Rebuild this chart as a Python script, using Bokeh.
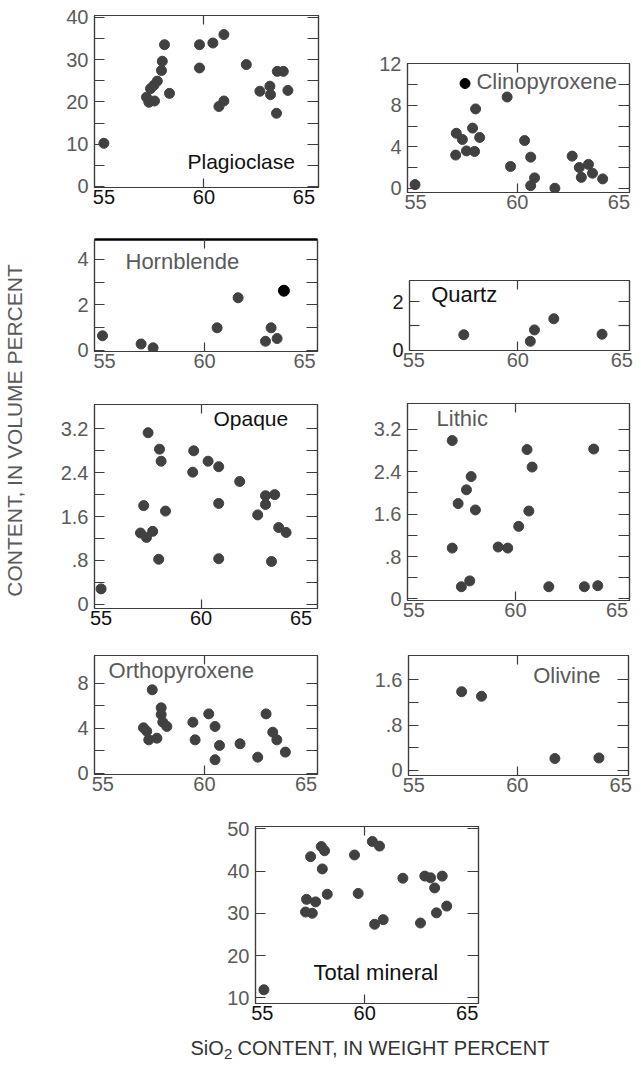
import math
from bokeh.plotting import figure
from bokeh.layouts import row, column
from bokeh.models import Range1d, FixedTicker, LinearAxis
from bokeh.embed import file_html
from bokeh.resources import INLINE
from bokeh.core.properties import value

# ---------------- data (SiO2 wt% vs content vol%) ----------------
plag_x = [55.0, 57.13, 57.25, 57.53, 57.33, 57.5, 57.67, 57.88, 57.92, 58.03, 58.28, 59.78, 59.78,
          60.45, 61.0, 60.75, 61.0, 62.12, 62.8, 63.3, 63.33, 63.63, 63.67, 63.97, 64.2]
plag_y = [10.2, 21.1, 19.9, 20.2, 23.1, 23.9, 24.9, 27.4, 29.6, 33.5, 22.0, 33.5, 28.0,
          33.9, 35.9, 18.9, 20.2, 28.8, 22.5, 23.7, 21.7, 17.3, 27.2, 27.2, 22.7]

clino_x = [54.97, 57.0, 57.3, 57.8, 58.15, 56.97, 57.5, 57.9, 57.95, 59.5, 59.67, 60.36, 60.66,
           60.66, 60.85, 61.85, 62.7, 63.05, 63.15, 63.5, 63.7, 64.2]
clino_y = [0.35, 5.3, 4.7, 5.8, 4.9, 3.2, 3.6, 3.55, 7.65, 8.8, 2.1, 4.6, 3.0,
           0.25, 1.0, 0.0, 3.1, 2.0, 1.05, 2.3, 1.45, 0.9]
clino_hl_x = [57.43]
clino_hl_y = [10.1]

horn_x = [54.9, 56.83, 57.43, 60.63, 61.68, 63.05, 63.33, 63.63]
horn_y = [0.64, 0.28, 0.11, 0.99, 2.31, 0.4, 0.99, 0.52]
horn_hl_x = [63.97]
horn_hl_y = [2.62]

quartz_x = [57.4, 60.6, 60.8, 61.73, 64.05]
quartz_y = [0.63, 0.36, 0.83, 1.29, 0.65]

opaque_x = [55.0, 57.35, 56.97, 57.27, 57.58, 57.13, 57.92, 58.0, 58.22, 57.88, 59.63, 59.58,
            60.35, 60.88, 60.88, 60.88, 61.93, 62.83, 63.22, 63.22, 63.68, 63.88, 64.25, 63.52]
opaque_y = [0.28, 3.13, 1.30, 1.22, 1.33, 1.80, 2.83, 2.61, 1.70, 0.82, 2.80, 2.41,
            2.61, 2.51, 1.84, 0.83, 2.24, 1.63, 1.82, 1.98, 2.0, 1.40, 1.31, 0.78]

lithic_x = [56.89, 57.18, 56.89, 57.59, 57.82, 58.03, 57.34, 57.75, 59.15, 59.62, 60.16, 60.57,
            60.82, 60.66, 61.64, 63.39, 64.05, 63.85]
lithic_y = [2.99, 1.80, 0.96, 2.06, 2.31, 1.68, 0.23, 0.34, 0.98, 0.96, 1.37, 2.82,
            2.49, 1.66, 0.23, 0.23, 0.25, 2.83]

ortho_x = [57.43, 57.0, 57.16, 57.26, 57.66, 57.87, 57.87, 57.95, 58.15, 59.43, 59.54, 60.21,
           60.52, 60.74, 60.52, 61.75, 62.62, 63.03, 63.36, 63.56, 63.98]
ortho_y = [7.41, 4.03, 3.73, 2.96, 3.11, 5.81, 5.21, 4.53, 4.15, 4.53, 2.96, 5.27,
           4.15, 2.46, 1.19, 2.61, 1.42, 5.27, 3.64, 2.96, 1.87]

olivine_x = [57.31, 58.27, 61.82, 63.95]
olivine_y = [1.39, 1.31, 0.21, 0.22]

total_x = [55.08, 57.36, 57.16, 57.6, 57.11, 57.44, 57.88, 58.04, 57.93, 58.17, 59.5, 59.68,
           60.37, 60.72, 60.48, 60.9, 61.86, 62.72, 62.93, 63.21, 63.41, 63.5, 63.78, 64.0]
total_y = [11.9, 43.4, 33.3, 32.7, 30.3, 30.0, 45.8, 44.8, 40.5, 34.5, 43.8, 34.7,
           47.0, 45.9, 27.4, 28.5, 38.3, 27.7, 38.8, 38.4, 36.0, 30.1, 38.8, 31.7]

x_ticks = [55, 60, 65]
x_inner_ticks = [60]

FONT = "Liberation Sans"
AX = "#3c3c3c"
DOT = "#414141"
GRAY = "#5a5a5a"
DARK = "#111111"


def base_fig(**kw):
    p = figure(output_backend="svg", toolbar_location=None,
               x_axis_type=None, y_axis_type=None, **kw)
    p.frame_align = False
    return p


def panel(w, h, bl, br, bt, bb, xr, yr, ymaj, ymin, yover, xcol, ycol):
    p = base_fig(width=w, height=h, x_range=Range1d(*xr), y_range=Range1d(*yr),
                 min_border_left=bl, min_border_right=br,
                 min_border_top=bt, min_border_bottom=bb)
    p.outline_line_color = AX
    p.outline_line_width = 1.2

    def style(ax):
        ax.axis_line_color = AX
        ax.axis_line_width = 1.2
        ax.major_tick_line_color = AX
        ax.minor_tick_line_color = AX
        ax.major_tick_line_width = 1.2
        ax.minor_tick_line_width = 1.2
        ax.major_label_text_font = FONT
        ax.major_label_text_font_size = "20px"
        ax.major_tick_out = 0
        ax.minor_tick_out = 0

    xb = LinearAxis(ticker=FixedTicker(ticks=x_ticks, minor_ticks=x_inner_ticks))
    style(xb)
    xb.major_tick_in = 0
    xb.minor_tick_in = 9
    xb.major_label_standoff = 2
    xb.major_label_text_color = xcol
    p.add_layout(xb, "below")

    xt = LinearAxis(ticker=FixedTicker(ticks=x_inner_ticks, minor_ticks=[]))
    style(xt)
    xt.major_tick_in = 9
    xt.major_label_text_font_size = "0px"
    xt.major_label_overrides = {60: ""}
    p.add_layout(xt, "above")

    yl = LinearAxis(ticker=FixedTicker(ticks=ymaj, minor_ticks=ymin))
    style(yl)
    yl.major_tick_in = 10
    yl.minor_tick_in = 10
    yl.major_label_standoff = 6
    yl.major_label_text_color = ycol
    if yover:
        yl.major_label_overrides = yover
    p.add_layout(yl, "left")

    yrr = LinearAxis(ticker=FixedTicker(ticks=ymaj, minor_ticks=ymin))
    style(yrr)
    yrr.major_tick_in = 11
    yrr.minor_tick_in = 11
    yrr.major_label_text_font_size = "0px"
    yrr.major_label_overrides = {t: "" for t in ymaj}
    p.add_layout(yrr, "right")
    return p, xt


def dots(p, xs, ys, color=DOT, size=10):
    p.scatter(xs, ys, size=size, fill_color=color, line_color=color, marker="circle")


def label(p, x, y, txt, color, size="22px"):
    p.text(x=[x], y=[y], text=[txt], text_font=value(FONT), text_font_size=size,
           text_color=color, text_align="left", text_baseline="middle")


dec = {0: "0", 0.8: ".8", 1.6: "1.6", 2.4: "2.4", 3.2: "3.2"}

# Row 1
f1, _ = panel(325, 218, 64, 37, 15, 31, (54.53, 65.73), (-0.24, 40.4),
              [0, 10, 20, 30, 40], [5, 15, 25, 35], None, DARK, GRAY)
dots(f1, plag_x, plag_y)
label(f1, 59.18, 5.9, "Plagioclase", DARK, "21px")

f2, _ = panel(286, 218, 52, 12, 63, 26, (54.6, 65.52), (-0.41, 12.03),
              [0, 4, 8, 12], [2, 6, 10], None, GRAY, GRAY)
dots(f2, clino_x, clino_y)
dots(f2, clino_hl_x, clino_hl_y, color="#000000", size=10)
label(f2, 57.99, 10.27, "Clinopyroxene", GRAY)

# Row 2
f3, top3 = panel(325, 170, 64, 38, 21, 37, (54.5, 65.65), (-0.05, 4.87),
                 [0, 2, 4], [1, 3], None, GRAY, GRAY)
top3.axis_line_color = "#000000"
top3.axis_line_width = 2.5
dots(f3, horn_x, horn_y)
dots(f3, horn_hl_x, horn_hl_y, color="#000000", size=11)
label(f3, 56.05, 3.9, "Hornblende", GRAY)

f4, _ = panel(286, 170, 54, 12, 62, 38, (54.79, 65.37), (-0.02, 2.87),
              [0, 2], [1], None, GRAY, "#222222")
dots(f4, quartz_x, quartz_y)
label(f4, 55.83, 2.3, "Quartz", DARK)

# Row 3
f5, _ = panel(325, 248, 64, 38, 16, 28, (54.67, 65.82), (-0.078, 3.645),
              [0, 0.8, 1.6, 2.4, 3.2], [0.4, 1.2, 2.0, 2.8], dec, DARK, GRAY)
dots(f5, opaque_x, opaque_y)
label(f5, 60.62, 3.39, "Opaque", DARK, "21px")

f6, _ = panel(286, 248, 52, 12, 15, 36, (54.69, 65.61), (-0.03, 3.69),
              [0, 0.8, 1.6, 2.4, 3.2], [0.4, 1.2, 2.0, 2.8], dec, GRAY, GRAY)
dots(f6, lithic_x, lithic_y)
label(f6, 56.12, 3.40, "Lithic", GRAY)

# Row 4
f7, _ = panel(325, 167, 64, 38, 19, 29, (54.59, 65.56), (-0.12, 10.46),
              [0, 4, 8], [2, 6], None, GRAY, GRAY)
dots(f7, ortho_x, ortho_y)
label(f7, 55.28, 9.13, "Orthopyroxene", GRAY)

f8, _ = panel(286, 167, 53, 13, 19, 28, (54.74, 65.38), (-0.09, 2.03),
              [0, 0.8, 1.6], [0.4, 1.2], {0: "0", 0.8: ".8", 1.6: "1.6"}, GRAY, GRAY)
dots(f8, olivine_x, olivine_y)
label(f8, 60.77, 1.68, "Olivine", GRAY)

# Row 5
f9, _ = panel(611, 225, 225, 163, 23, 25, (54.67, 65.55), (8.65, 50.54),
              [10, 20, 30, 40, 50], [], None, DARK, GRAY)
dots(f9, total_x, total_y)
label(f9, 57.5, 16.06, "Total mineral", DARK)

# Axis titles
ytf = base_fig(width=30, height=1079, x_range=Range1d(0, 30), y_range=Range1d(0, 1079),
               min_border=0)
ytf.outline_line_color = None
ytf.text(x=[14], y=[1079 - 430], text=["CONTENT, IN VOLUME PERCENT"], angle=math.pi / 2,
         text_font=value(FONT), text_font_size="21px", text_color=GRAY,
         text_align="center", text_baseline="middle")

xtf = base_fig(width=611, height=51, x_range=Range1d(30, 641), y_range=Range1d(0, 51),
               min_border=0)
xtf.outline_line_color = None
xtf.text(x=[190], y=[32], text=["SiO"], text_font=value(FONT), text_font_size="20px",
         text_color="#333333", text_align="left", text_baseline="middle")
xtf.text(x=[223.5], y=[26], text=["2"], text_font=value(FONT), text_font_size="15px",
         text_color="#333333", text_align="left", text_baseline="middle")
xtf.text(x=[237], y=[32], text=["CONTENT, IN WEIGHT PERCENT"], text_font=value(FONT),
         text_font_size="20px", text_color="#333333", text_align="left", text_baseline="middle")

layout = row(ytf, column(row(f1, f2), row(f3, f4), row(f5, f6), row(f7, f8), f9, xtf))

open("out.html", "w").write(file_html(layout, INLINE))
